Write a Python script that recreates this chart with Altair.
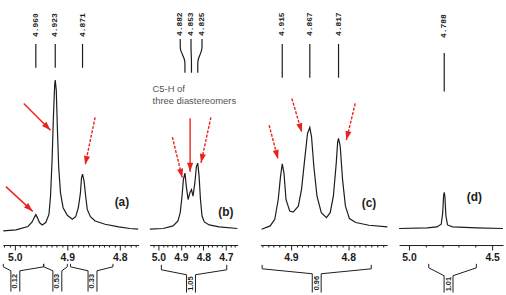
import math
import altair as alt
import pandas as pd

# ---------------- values ----------------
# spectra: chemical shift (ppm) and intensity (arbitrary units)
a_ppm = [5.022, 4.998, 4.975, 4.967, 4.963, 4.960, 4.957, 4.953, 4.948, 4.941, 4.935,
         4.932, 4.929, 4.9265, 4.924, 4.923, 4.921, 4.919, 4.9165, 4.913, 4.908,
         4.900, 4.8905, 4.884, 4.879, 4.875, 4.873, 4.871, 4.868, 4.865, 4.862, 4.856,
         4.847, 4.828, 4.802, 4.781, 4.765]
a_int = [0.3, 1.3, 4.7, 9.3, 13.7, 16.7, 13.7, 8.7, 6.3, 8.7, 17,
         35.3, 72, 115.3, 148.7, 152.7, 142, 105.3, 65.3, 38.7, 23.7,
         16, 12, 14.7, 23.7, 38.7, 53.7, 57.7, 50.3, 35.3, 22, 14.7,
         10.3, 7, 4.3, 2.7, 2]

b_ppm = [5.038, 4.979, 4.935, 4.913, 4.903, 4.895, 4.889, 4.882, 4.876, 4.868, 4.860,
         4.853, 4.846, 4.838, 4.831, 4.825, 4.819, 4.813, 4.806, 4.796, 4.774, 4.730, 4.649]
b_int = [2, 2.7, 5.3, 10.3, 18.7, 35.3, 52, 58.7, 45.3, 32, 38.7,
         42, 35.3, 48.7, 65.3, 68.7, 55.3, 32, 15.3, 9.3, 6.3, 4.3, 2.7]

c_ppm = [4.951, 4.936, 4.928, 4.922, 4.918, 4.915, 4.912, 4.9085, 4.902, 4.896,
         4.887, 4.8815, 4.876, 4.871, 4.867, 4.864, 4.860, 4.8545, 4.847, 4.838,
         4.8315, 4.826, 4.821, 4.8185, 4.817, 4.814, 4.810, 4.805, 4.798, 4.787,
         4.764, 4.732]
c_int = [2, 5.3, 12, 32, 55.3, 68, 58.7, 32, 20.3, 19.3,
         25.3, 42, 72, 98.7, 104.7, 95.3, 65.3, 35.3, 18.7, 13.7,
         18.7, 35.3, 68.7, 90.3, 93.7, 85.3, 52, 25.3, 12.7, 8.7,
         6, 4.3]

d_ppm = [5.059, 4.891, 4.832, 4.806, 4.797, 4.792, 4.788, 4.784, 4.778, 4.768, 4.738, 4.593, 4.435]
d_int = [2.7, 3.3, 4.3, 7, 18.7, 35.3, 39.3, 35.3, 15.3, 6.3, 4.3, 3.3, 2.7]

# peak labels
a_peaks = [4.960, 4.923, 4.871]
b_peaks = [4.882, 4.853, 4.825]
c_peaks = [4.915, 4.867, 4.817]
d_peaks = [4.788]
a_peak_txt = ["4.960", "4.923", "4.871"]
b_peak_txt = ["4.882", "4.853", "4.825"]
c_peak_txt = ["4.915", "4.867", "4.817"]
d_peak_txt = ["4.788"]
b_peak_txt_ppm = [4.903, 4.855, 4.806]   # spread-out label positions in (b)

# axis tick labels
a_ticks = [5.0, 4.9, 4.8]
b_ticks = [5.0, 4.9, 4.8, 4.7]
c_ticks = [4.9, 4.8]
d_ticks = [5.0, 4.5]

# integrals: from, to, bracket centre, value
a_int_from = [5.022, 4.945, 4.894]
a_int_to = [4.945, 4.900, 4.813]
a_int_mid = [4.999, 4.919, 4.852]
a_int_val = ["0.12", "0.53", "0.33"]
b_int_from, b_int_to, b_int_mid, b_int_val = [4.987], [4.696], [4.855], ["1.05"]
c_int_from, c_int_to, c_int_mid, c_int_val = [4.950], [4.760], [4.855], ["0.96"]
d_int_from, d_int_to, d_int_mid, d_int_val = [4.881], [4.595], [4.762], ["1.01"]

# red arrows: start (ppm, intensity) -> tip (ppm, intensity), dashed?
a_arr_x0 = [5.017, 4.983, 4.847]
a_arr_y0 = [45, 129, 115]
a_arr_x1 = [4.966, 4.932, 4.866]
a_arr_y1 = [20, 102, 67]
a_arr_dash = [False, False, True]
b_arr_x0 = [4.938, 4.859, 4.7665]
b_arr_y0 = [95, 114, 115]
b_arr_x1 = [4.894, 4.859, 4.8106]
b_arr_y1 = [54, 60, 69]
b_arr_dash = [True, False, True]
c_arr_x0 = [4.9379, 4.8983, 4.7879]
c_arr_y0 = [107, 134, 129]
c_arr_x1 = [4.9224, 4.8810, 4.8034]
c_arr_y1 = [73, 100, 92]
c_arr_dash = [True, True, True]

panel_tags = ["(a)", "(b)", "(c)", "(d)"]
tag_ppm = [4.796, 4.700, 4.764, 4.607]
tag_y = [29, 19, 28.5, 34.5]

note_lines = ["C5-H of", "three diastereomers"]
note_ppm = 5.026
note_y = [144, 131]

# ---------------- layout / style ----------------
FONT_SANS = "Liberation Sans"
FONT_MONO = "Liberation Mono"
INK = "#1c1c1c"
RED = "#e8231e"
HEAD = "M0,0L-0.75,2.2L0.75,2.2Z"
PLOT_H = 246
YS = alt.Scale(domain=[-14, 232], nice=False, zero=False)

GEOM = {
    "a": dict(width=148, span=137, left=5.0226, ppx=530.0, minor=0.01,
              lines=(165, 189), text_y=196, br=(-33, -36, -40, -61)),
    "b": dict(width=112, span=89, left=5.0396, ppx=227.0, minor=0.02,
              lines=(160, 194), text_y=197, br=(-34, -39, -44, -62)),
    "c": dict(width=140, span=128, left=4.953, ppx=580.0, minor=0.01,
              lines=(155, 189), text_y=197, br=(-34, -38, -43, -62)),
    "d": dict(width=106, span=105, left=5.0595, ppx=168.0, minor=0.1,
              lines=(141, 180), text_y=195, br=(-33, -37, -45, -62)),
}


def xscale(g):
    right = g["left"] - g["span"] / g["ppx"]
    return alt.Scale(domain=[g["left"], right], range=[0, g["span"]], nice=False, zero=False)


def minor_values(g, ticks):
    right = g["left"] - g["span"] / g["ppx"]
    step = g["minor"]
    n0 = math.ceil(right / step - 1e-9)
    n1 = math.floor(g["left"] / step + 1e-9)
    out = []
    for n in range(n0, n1 + 1):
        v = round(n * step, 3)
        if all(abs(v - t) > 1e-6 for t in ticks):
            out.append(v)
    return out


def build(key, spec_ppm, spec_int, peaks, peak_txt, ticks, ints, arrows, tag_i,
          txt_ppm=None, extra=None):
    g = GEOM[key]
    xs = xscale(g)
    layers = []
    spec = pd.DataFrame({"ppm": spec_ppm, "I": spec_int})

    major_axis = alt.Axis(values=ticks, format=".1f", tickSize=5, tickWidth=1, tickColor=INK,
                          domain=True, domainColor=INK, domainWidth=1,
                          labelFont=FONT_SANS, labelFontSize=10.5, labelFontWeight="bold",
                          labelColor=INK, labelPadding=3, labelFlush=False, labelOverlap=False,
                          grid=False, title=None, orient="bottom")
    minor_axis = alt.Axis(values=minor_values(g, ticks), tickSize=2, tickWidth=1, tickColor=INK,
                          labels=False, domain=False, grid=False, title=None, orient="bottom")

    layers.append(alt.Chart(spec).mark_line(color=INK, strokeWidth=1.2).encode(
        x=alt.X("ppm:Q", scale=xs, axis=major_axis),
        y=alt.Y("I:Q", scale=YS, axis=None)))
    layers.append(alt.Chart(spec).mark_line(opacity=0).encode(
        x=alt.X("ppm:Q", scale=xs, axis=minor_axis),
        y=alt.Y("I:Q", scale=YS, axis=None)))

    # peak label lines
    lo, hi = g["lines"]
    rows = []
    tpos = txt_ppm if txt_ppm is not None else peaks
    for i, (p, tp) in enumerate(zip(peaks, tpos)):
        if txt_ppm is None:
            pts = [(p, lo), (p, hi)]
        else:
            pts = [(tp, hi), (tp, hi - 8), (tp, hi - 11), (p, lo + 13), (p, lo + 10), (p, lo)]
        for k, (xx, yy) in enumerate(pts):
            rows.append({"ppm": xx, "y": yy, "g": i, "k": k})
    ldf = pd.DataFrame(rows)
    layers.append(alt.Chart(ldf).mark_line(
        color=INK, strokeWidth=1.2, interpolate="basis" if txt_ppm is not None else "linear").encode(
        x=alt.X("ppm:Q", scale=xs, axis=None),
        y=alt.Y("y:Q", scale=YS, axis=None),
        detail="g:N", order="k:Q"))
    tdf = pd.DataFrame({"ppm": tpos, "y": [g["text_y"]] * len(peaks), "t": peak_txt})
    layers.append(alt.Chart(tdf).mark_text(
        angle=270, align="left", baseline="middle", font=FONT_MONO, fontSize=8,
        fontWeight="bold", color=INK).encode(
        x=alt.X("ppm:Q", scale=xs, axis=None),
        y=alt.Y("y:Q", scale=YS, axis=None),
        text="t:N"))

    # red arrows
    if arrows is not None:
        x0, y0, x1, y1, dash = arrows
        ang = []
        for a0, b0, a1, b1 in zip(x0, y0, x1, y1):
            dxp = -(a1 - a0) * g["ppx"]
            ang.append(math.degrees(math.atan2(dxp, (b1 - b0))) % 360)
        adf = pd.DataFrame({"x0": x0, "y0": y0, "x1": x1, "y1": y1, "dash": dash, "ang": ang})
        for is_dash in (False, True):
            sub = adf[adf["dash"] == is_dash]
            if len(sub) == 0:
                continue
            kw = dict(color=RED, strokeWidth=1.4)
            if is_dash:
                kw["strokeDash"] = [3, 1.5]
            layers.append(alt.Chart(sub).mark_rule(**kw).encode(
                x=alt.X("x0:Q", scale=xs, axis=None), x2="x1:Q",
                y=alt.Y("y0:Q", scale=YS, axis=None), y2="y1:Q"))
        layers.append(alt.Chart(adf).mark_point(
            shape=HEAD, filled=True, size=68, color=RED, opacity=1, strokeWidth=0).encode(
            x=alt.X("x1:Q", scale=xs, axis=None),
            y=alt.Y("y1:Q", scale=YS, axis=None),
            angle=alt.Angle("ang:Q", scale=None)))

    # integral brackets
    frm, to, mid, val = ints
    top, bot, btop, bbot = g["br"]
    hw = 4.5 / g["ppx"]
    rows = []
    gid = 0
    for f, t, m in zip(frm, to, mid):
        for end, edge in ((f, m + hw), (t, m - hw)):
            for k, (xx, yy) in enumerate([(end, top), (end, bot), (edge, btop), (edge, bbot)]):
                rows.append({"ppm": xx, "y": yy, "g": gid, "k": k})
            gid += 1
    bdf = pd.DataFrame(rows)
    layers.append(alt.Chart(bdf).mark_line(color=INK, strokeWidth=1).encode(
        x=alt.X("ppm:Q", scale=xs, axis=None),
        y=alt.Y("y:Q", scale=YS, axis=None),
        detail="g:N", order="k:Q"))
    vdf = pd.DataFrame({"ppm": mid, "y": [(btop + bbot) / 2] * len(mid), "t": val})
    layers.append(alt.Chart(vdf).mark_text(
        angle=270, align="center", baseline="middle", font=FONT_SANS, fontSize=7.5,
        fontWeight="bold", color=INK).encode(
        x=alt.X("ppm:Q", scale=xs, axis=None),
        y=alt.Y("y:Q", scale=YS, axis=None),
        text="t:N"))

    # panel tag
    tg = pd.DataFrame({"ppm": [tag_ppm[tag_i]], "y": [tag_y[tag_i]], "t": [panel_tags[tag_i]]})
    layers.append(alt.Chart(tg).mark_text(
        font=FONT_SANS, fontSize=12, fontWeight="bold", color=INK, align="center",
        baseline="middle").encode(
        x=alt.X("ppm:Q", scale=xs, axis=None),
        y=alt.Y("y:Q", scale=YS, axis=None),
        text="t:N"))

    if extra is not None:
        layers.append(alt.Chart(extra).mark_text(
            font=FONT_SANS, fontSize=9.5, color="#555555", align="left", baseline="middle").encode(
            x=alt.X("ppm:Q", scale=xs, axis=None),
            y=alt.Y("y:Q", scale=YS, axis=None),
            text="t:N"))

    return alt.layer(*layers).resolve_axis(x="independent").properties(
        width=g["width"], height=PLOT_H)


note_df = pd.DataFrame({"ppm": [note_ppm, note_ppm], "y": note_y, "t": note_lines})

pa = build("a", a_ppm, a_int, a_peaks, a_peak_txt, a_ticks,
           (a_int_from, a_int_to, a_int_mid, a_int_val),
           (a_arr_x0, a_arr_y0, a_arr_x1, a_arr_y1, a_arr_dash), 0)
pb = build("b", b_ppm, b_int, b_peaks, b_peak_txt, b_ticks,
           (b_int_from, b_int_to, b_int_mid, b_int_val),
           (b_arr_x0, b_arr_y0, b_arr_x1, b_arr_y1, b_arr_dash), 1,
           txt_ppm=b_peak_txt_ppm, extra=note_df)
pc = build("c", c_ppm, c_int, c_peaks, c_peak_txt, c_ticks,
           (c_int_from, c_int_to, c_int_mid, c_int_val),
           (c_arr_x0, c_arr_y0, c_arr_x1, c_arr_y1, c_arr_dash), 2)
pd_ = build("d", d_ppm, d_int, d_peaks, d_peak_txt, d_ticks,
            (d_int_from, d_int_to, d_int_mid, d_int_val), None, 3)

chart = alt.hconcat(pa, pb, pc, pd_, spacing=0, bounds="flush").properties(
    padding=0, background="white"
).configure_view(strokeWidth=0)

chart.save("out.html", embed_options={"renderer": "svg", "actions": False})
